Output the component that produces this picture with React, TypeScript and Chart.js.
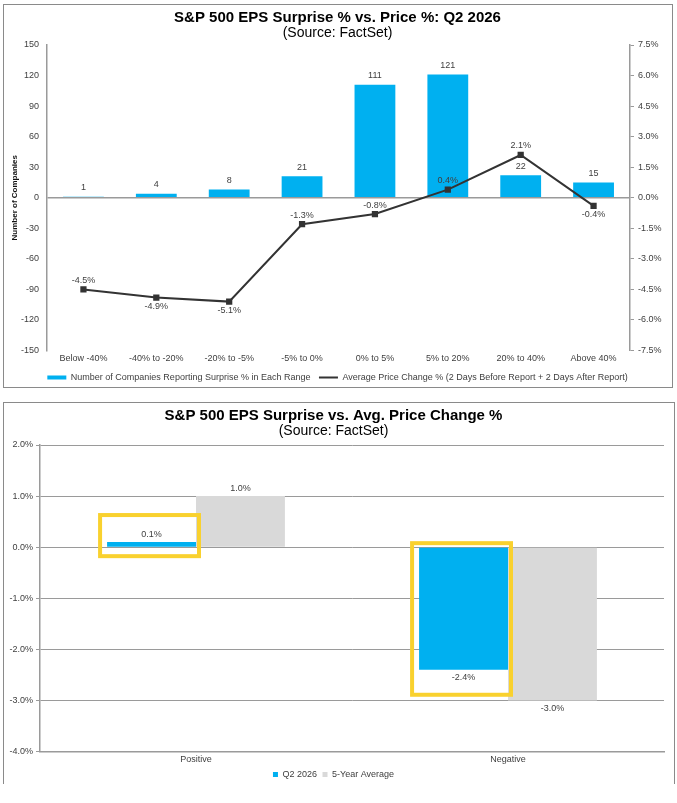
import React, { useEffect, useRef } from 'react';
import { Chart, registerables } from 'chart.js';

Chart.register(...registerables);

const FONT = "'Liberation Sans', Arial, sans-serif";

// top chart: EPS surprise buckets
const surpriseRanges = ['Below -40%', '-40% to -20%', '-20% to -5%', '-5% to 0%', '0% to 5%', '5% to 20%', '20% to 40%', 'Above 40%'];
const companyCounts = [1, 4, 8, 21, 111, 121, 22, 15];
const avgPriceChange = [-4.5, -4.9, -5.1, -1.3, -0.8, 0.4, 2.1, -0.4];

// bottom chart: positive vs negative surprises
const surpriseGroups = ['Positive', 'Negative'];
const q2Change = [0.1, -2.4];
const fiveYearChange = [1.0, -3.0];

const BLUE = '#00B0F0';
const GREY_BAR = '#D9D9D9';
const AXIS = '#9a9a9a';
const TEXT = '#404040';
const YELLOW = '#F9D12E';

type BelowFn = (di: number, i: number, v: number, data: number[]) => boolean;

const valueLabels = (fmt: (di: number, v: number) => string, offset: number, below: BelowFn) => ({
  id: 'valueLabels',
  afterDatasetsDraw(chart: any) {
    const { ctx } = chart;
    ctx.save();
    ctx.font = `9px ${FONT}`;
    ctx.fillStyle = TEXT;
    ctx.textAlign = 'center';
    ctx.textBaseline = 'middle';
    chart.data.datasets.forEach((ds: any, di: number) => {
      const data = ds.data as number[];
      chart.getDatasetMeta(di).data.forEach((el: any, i: number) => {
        const v = data[i];
        const y = below(di, i, v, data) ? el.y + offset : el.y - offset;
        ctx.fillText(fmt(di, v), el.x, y);
      });
    });
    ctx.restore();
  },
});

// yellow frames around the Q2 2026 bars
const highlightBoxes = {
  id: 'highlightBoxes',
  afterDatasetsDraw(chart: any) {
    const { ctx } = chart;
    const zero = chart.scales.y.getPixelForValue(0);
    ctx.save();
    ctx.strokeStyle = YELLOW;
    ctx.lineWidth = 4;
    chart.getDatasetMeta(0).data.forEach((el: any, i: number) => {
      const v = q2Change[i];
      const left = el.x - el.width / 2 - 9;
      const right = el.x + el.width / 2 + 5;
      const top = v >= 0 ? el.y - 29 : zero - 6;
      const bottom = v >= 0 ? zero + 11 : el.y + 27;
      ctx.strokeRect(left + 2, top + 2, right - left - 4, bottom - top - 4);
    });
    ctx.restore();
  },
};

const titleOpts = (text: string) => ({
  display: true,
  text,
  color: '#000',
  font: { family: FONT, size: 15, weight: 'bold' as const, lineHeight: 1 },
  padding: { top: 6, bottom: 0 },
});

const subtitleOpts = (bottom: number) => ({
  display: true,
  text: '(Source: FactSet)',
  color: '#000',
  font: { family: FONT, size: 14, lineHeight: 1 },
  padding: { top: 1, bottom },
});

const tickFont = { family: FONT, size: 9 };
const xTickFont = { family: FONT, size: 9, lineHeight: 1 };

function SurpriseChart() {
  const ref = useRef<HTMLCanvasElement>(null);

  useEffect(() => {
    const ctx = ref.current?.getContext('2d');
    if (!ctx) return;

    const chart = new Chart(ctx, {
      type: 'bar',
      data: {
        labels: surpriseRanges,
        datasets: [
          {
            type: 'bar',
            label: 'Number of Companies Reporting Surprise % in Each Range',
            data: companyCounts,
            backgroundColor: BLUE,
            yAxisID: 'y',
            order: 1,
            categoryPercentage: 1,
            barPercentage: 0.56,
          },
          {
            type: 'line',
            label: 'Average Price Change % (2 Days Before Report + 2 Days After Report)',
            data: avgPriceChange,
            borderColor: '#333333',
            backgroundColor: '#333333',
            borderWidth: 2,
            pointStyle: 'rect',
            pointRadius: 3,
            yAxisID: 'y1',
            order: 0,
          },
        ] as any,
      },
      options: {
        animation: false,
        responsive: false,
        plugins: {
          title: titleOpts('S&P 500 EPS Surprise % vs. Price %: Q2 2026'),
          subtitle: subtitleOpts(5),
          tooltip: { enabled: false },
          legend: {
            position: 'bottom',
            labels: {
              color: TEXT,
              font: tickFont,
              usePointStyle: true,
              pointStyleWidth: 19,
              boxWidth: 19,
              boxHeight: 4,
              padding: 8.5,
              generateLabels: (c: any) =>
                Chart.defaults.plugins.legend.labels
                  .generateLabels(c)
                  .sort((a: any, b: any) => a.datasetIndex - b.datasetIndex)
                  .map((item: any) => ({
                    ...item,
                    pointStyle: item.datasetIndex === 0 ? 'rect' : 'line',
                  })),
            },
          },
        },
        scales: {
          x: {
            grid: { display: false, drawTicks: false },
            border: { display: false },
            ticks: { color: TEXT, font: xTickFont, padding: 4, maxRotation: 0, autoSkip: false },
            afterFit: (s: any) => {
              s.height = 14;
            },
          },
          y: {
            position: 'left',
            min: -150,
            max: 150,
            ticks: { stepSize: 30, color: TEXT, font: tickFont, padding: 8 },
            grid: {
              drawTicks: false,
              lineWidth: 1.5,
              color: (c: any) => (c.tick && c.tick.value === 0 ? AXIS : 'rgba(0,0,0,0)'),
            },
            border: { color: AXIS, width: 1.5 },
            title: {
              display: true,
              text: 'Number of Companies',
              color: '#111',
              font: { family: FONT, size: 8, weight: 'bold' },
              padding: { top: 7, bottom: 0 },
            },
            afterFit: (s: any) => {
              s.width = 44;
            },
          },
          y1: {
            position: 'right',
            min: -7.5,
            max: 7.5,
            ticks: {
              stepSize: 1.5,
              color: TEXT,
              font: tickFont,
              padding: 4,
              callback: (v: any) => `${Number(v).toFixed(1)}%`,
            },
            grid: { drawOnChartArea: false, tickLength: 4, color: AXIS },
            border: { color: AXIS, width: 1.5 },
            afterFit: (s: any) => {
              s.width = 42;
            },
          },
        },
      },
      plugins: [
        valueLabels(
          (di, v) => (di === 0 ? `${v}` : `${v.toFixed(1)}%`),
          9,
          (di, i, v, data) => (di === 0 ? v < 0 : i > 0 && v < data[i - 1]),
        ),
      ],
    });

    return () => chart.destroy();
  }, []);

  return <canvas ref={ref} width={669} height={388} style={{ position: 'absolute', left: 3, top: 4, width: 669, height: 388 }} />;
}

function PriceChangeChart() {
  const ref = useRef<HTMLCanvasElement>(null);

  useEffect(() => {
    const ctx = ref.current?.getContext('2d');
    if (!ctx) return;

    const chart = new Chart(ctx, {
      type: 'bar',
      data: {
        labels: surpriseGroups,
        datasets: [
          { label: 'Q2 2026', data: q2Change, backgroundColor: BLUE, categoryPercentage: 0.57, barPercentage: 1 },
          { label: '5-Year Average', data: fiveYearChange, backgroundColor: GREY_BAR, categoryPercentage: 0.57, barPercentage: 1 },
        ],
      },
      options: {
        animation: false,
        responsive: false,
        layout: { padding: { right: 10 } },
        plugins: {
          title: titleOpts('S&P 500 EPS Surprise vs. Avg. Price Change %'),
          subtitle: subtitleOpts(7),
          tooltip: { enabled: false },
          legend: {
            position: 'bottom',
            labels: {
              color: TEXT,
              font: tickFont,
              usePointStyle: true,
              pointStyle: 'rect',
              pointStyleWidth: 5,
              boxWidth: 5,
              boxHeight: 5,
              padding: 5.5,
            },
          },
        },
        scales: {
          x: {
            grid: { display: false, drawTicks: false },
            border: { color: AXIS, width: 1.5 },
            ticks: { color: TEXT, font: xTickFont, padding: 3.5 },
            afterFit: (s: any) => {
              s.height = 13;
            },
          },
          y: {
            min: -4,
            max: 2,
            ticks: {
              stepSize: 1,
              color: TEXT,
              font: tickFont,
              padding: 3,
              callback: (v: any) => `${Number(v).toFixed(1)}%`,
            },
            grid: { color: AXIS, tickLength: 4 },
            border: { color: AXIS, width: 1.5 },
            afterFit: (s: any) => {
              s.width = 37;
            },
          },
        },
      },
      plugins: [
        valueLabels((_di, v) => `${v.toFixed(1)}%`, 8, (_di, _i, v) => v < 0),
        highlightBoxes,
      ],
    });

    return () => chart.destroy();
  }, []);

  return <canvas ref={ref} width={671} height={387} style={{ position: 'absolute', left: 3, top: 402, width: 671, height: 387 }} />;
}

export default function App() {
  return (
    <div style={{ position: 'absolute', left: 0, top: 0, width: 677, height: 803, background: '#fff' }}>
      <div
        style={{
          position: 'absolute',
          left: 3,
          top: 4,
          width: 670,
          height: 384,
          border: '1.5px solid #8a8a8a',
          boxSizing: 'border-box',
        }}
      />
      <div
        style={{
          position: 'absolute',
          left: 3,
          top: 402,
          width: 672,
          height: 382,
          border: '1.5px solid #8a8a8a',
          borderBottom: 'none',
          boxSizing: 'border-box',
        }}
      />
      <SurpriseChart />
      <PriceChangeChart />
    </div>
  );
}
